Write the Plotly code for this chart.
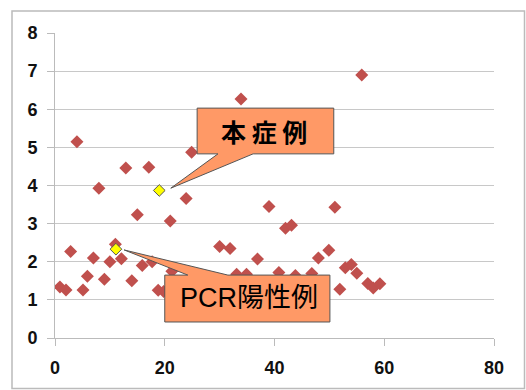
import plotly.graph_objects as go

# Data
x_vals = [0.9, 2.0, 2.85, 4.0, 5.1, 5.9, 7.0, 8.0, 9.0, 10.0, 11.0, 12.1, 12.9, 14.0,
          15.0, 15.9, 17.1, 17.7, 18.8, 19.8, 21.0, 21.3, 23.9, 24.9, 30.0, 31.9,
          33.1, 33.9, 34.9, 36.9, 39.0, 40.8, 42.0, 43.1, 43.8, 46.8, 48.0, 49.9,
          51.0, 51.9, 52.9, 54.0, 55.0, 55.9, 57.0, 58.0, 59.2]
y_vals = [1.34, 1.26, 2.27, 5.15, 1.26, 1.62, 2.10, 3.93, 1.54, 2.00, 2.46, 2.08, 4.46, 1.50,
          3.23, 1.90, 4.48, 2.00, 1.25, 1.22, 3.07, 1.75, 3.66, 4.87, 2.40, 2.35,
          1.67, 6.27, 1.67, 2.07, 3.45, 1.72, 2.88, 2.96, 1.64, 1.69, 2.10, 2.30,
          3.43, 1.28, 1.84, 1.93, 1.70, 6.90, 1.43, 1.31, 1.42]
hl_x = [19.0, 11.1]
hl_y = [3.87, 2.33]
hl_labels = ["本症例", "PCR陽性例"]
x_ticks = [0, 20, 40, 60, 80]
y_ticks = [0, 1, 2, 3, 4, 5, 6, 7, 8]

fig = go.Figure()
fig.add_trace(go.Scatter(
    x=x_vals, y=y_vals, mode="markers",
    marker=dict(symbol="diamond", size=10, color="#C0504D", line=dict(width=0)),
    hoverinfo="x+y", showlegend=False))
fig.add_trace(go.Scatter(
    x=hl_x, y=hl_y, mode="markers",
    marker=dict(symbol="diamond", size=9, color="#FFFF00", line=dict(width=1, color="#555555")),
    hoverinfo="x+y", showlegend=False))

W, H = 526, 390
# plot area in screen pixels
SL, ST, SR, SB = 55, 33, 494, 338
L, T = SL, ST
R = W - L - (SR - SL)
B = H - T - (SB - ST)
pw, ph = SR - SL, SB - ST

def px_x(px):
    return (px - SL) / pw

def px_y(py):
    return (SB - py) / ph

shapes = [
    # outer chart border
    dict(type="rect", xref="paper", yref="paper",
         x0=px_x(12), x1=px_x(524.5), y0=px_y(388.5), y1=px_y(11),
         line=dict(color="#BBBBBB", width=1.5), fillcolor="rgba(0,0,0,0)", layer="below"),
]

callout_style = dict(type="path", xref="x", yref="y", fillcolor="#FF9966",
                     line=dict(color="#555555", width=1), layer="above")
# callout for 本症例
shapes.append(dict(path="M 25.9,6.03 L 50.8,6.03 L 50.8,4.83 L 36.1,4.83 L 21.1,3.93 L 29.7,4.83 L 25.9,4.83 Z",
                   **callout_style))
# callout for PCR陽性例
shapes.append(dict(path="M 20.0,1.65 L 24.2,1.65 L 12.6,2.31 L 31.5,1.65 L 50.1,1.65 L 50.1,0.42 L 20.0,0.42 Z",
                   **callout_style))

annotations = [
    dict(x=38.0, y=5.43, xref="x", yref="y", text="<b>" + " ".join(hl_labels[0]) + "</b>", showarrow=False,
         font=dict(family="Noto Sans CJK JP", size=25, color="#000000")),
    dict(x=35.3, y=1.04, xref="x", yref="y", text=hl_labels[1], showarrow=False,
         font=dict(family="Liberation Sans, Noto Sans CJK JP", size=27, color="#000000")),
]

fig.update_layout(
    width=W, height=H,
    margin=dict(l=L, r=R, t=T, b=B),
    paper_bgcolor="white", plot_bgcolor="white",
    shapes=shapes, annotations=annotations,
    font=dict(family="Liberation Sans", size=17, color="#222222"),
)
tickfont = dict(family="Liberation Sans", size=18, color="#111111", weight="bold")
fig.update_xaxes(
    range=[0, 80], tickvals=x_ticks, tickfont=tickfont,
    showgrid=False, zeroline=False, automargin=False,
    showline=True, linecolor="#BBBBBB", linewidth=1,
    ticks="outside", ticklen=7, tickcolor="#BBBBBB",
    ticklabelstandoff=6,
)
fig.update_yaxes(
    range=[0, 8], tickvals=y_ticks, tickfont=tickfont,
    showgrid=True, gridcolor="#C8C8C8", gridwidth=1.2, zeroline=False, automargin=False,
    showline=True, linecolor="#BBBBBB", linewidth=1,
    ticks="outside", ticklen=7, tickcolor="#BBBBBB",
    ticklabelstandoff=6,
)

fig.write_html("out.html",
               config={"displayModeBar": False},
               post_script="document.body.style.margin='0';document.body.style.overflow='hidden';")
